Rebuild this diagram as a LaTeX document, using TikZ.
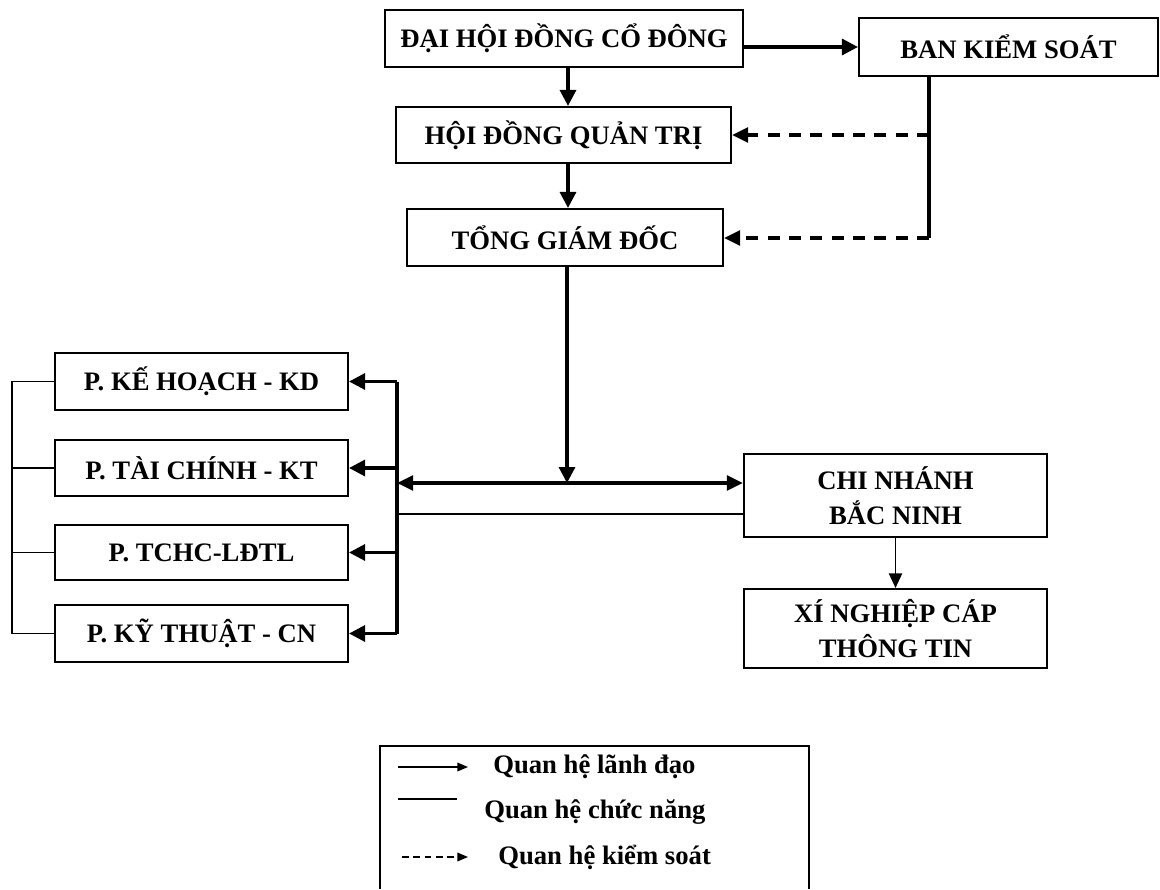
\documentclass[tikz,border=0pt]{standalone}
\usepackage{fontspec}
\setmainfont{Liberation Serif}
\usetikzlibrary{arrows.meta}
\begin{document}
\begin{tikzpicture}[x=0.75pt,y=-0.75pt,
  box/.style={draw,line width=1.6pt,inner sep=0pt,align=center,font=\fontsize{20}{26}\selectfont\bfseries},
  lead/.style={line width=2.4pt,-{Triangle[length=12pt,width=12pt]}},
  thick line/.style={line width=2.4pt},
  ctrl/.style={line width=2.4pt,dash pattern=on 9pt off 7pt,-{Triangle[length=12pt,width=11pt]}},
  func/.style={line width=1pt},
  legtext/.style={anchor=west,font=\fontsize{20}{22}\selectfont\bfseries,inner sep=0pt}]
\useasboundingbox (0,0) rectangle (1160,889);
\fill[white] (0,0) rectangle (1160,889);

% boxes
\node[box,minimum width=358*0.75pt,minimum height=57*0.75pt] (dh) at (564,38.5) {ĐẠI HỘI ĐỒNG CỔ ĐÔNG};
\node[box,minimum width=335*0.75pt,minimum height=56*0.75pt] (hd) at (563.5,135) {HỘI ĐỒNG QUẢN TRỊ};
\node[box,minimum width=316*0.75pt,minimum height=57*0.75pt] (tgd) at (565,237.5) {TỔNG GIÁM ĐỐC};
\node[box,minimum width=299*0.75pt,minimum height=58*0.75pt] (bks) at (1008.5,47) {BAN KIỂM SOÁT};
\node[box,minimum width=293*0.75pt,minimum height=57*0.75pt] (kh) at (201.5,381.5) {P. KẾ HOẠCH - KD};
\node[box,minimum width=293*0.75pt,minimum height=56*0.75pt] (tc) at (201.5,468) {P. TÀI CHÍNH - KT};
\node[box,minimum width=293*0.75pt,minimum height=55*0.75pt] (tchc) at (201.5,552.5) {P. TCHC-LĐTL};
\node[box,minimum width=293*0.75pt,minimum height=57*0.75pt] (kt) at (201.5,633.5) {P. KỸ THUẬT - CN};
\node[box,minimum width=303*0.75pt,minimum height=83*0.75pt] (cn) at (895.5,495.5) {CHI NHÁNH\\BẮC NINH};
\node[box,minimum width=303*0.75pt,minimum height=79*0.75pt] (xn) at (895.5,628.5) {XÍ NGHIỆP CÁP\\THÔNG TIN};

% helper coordinates
\coordinate (spine) at (568,0);
\coordinate (kv) at (929,238);
\coordinate (j) at (567,483);
\coordinate (bus) at (397,0);
\coordinate (lb) at (12,0);
\coordinate (f) at (397,514);

% leadership
\draw[lead] (dh.south -| spine) -- (hd.north -| spine);
\draw[lead] (hd.south -| spine) -- (tgd.north -| spine);
\draw[lead] (bks.west -| dh.east) -- (bks.west);
\draw[lead] (tgd.south -| j) -- (j);
\draw[thick line,{Triangle[length=12pt,width=11pt]}-{Triangle[length=12pt,width=11pt]}] (j -| bus) -- (j -| cn.west);
\draw[thick line] (kh.east -| bus) -- (kt.east -| bus);
\draw[lead] (kh.east -| bus) -- (kh.east);
\draw[lead] (tc.east -| bus) -- (tc.east);
\draw[lead] (tchc.east -| bus) -- (tchc.east);
\draw[lead] (kt.east -| bus) -- (kt.east);
\draw[line width=1.3pt,-{Triangle[length=11pt,width=10pt]}] (cn.south) -- (xn.north);

% control
\draw[thick line] (bks.south -| kv) -- (kv);
\draw[ctrl] (hd.east -| kv) -- (hd.east);
\draw[ctrl] (kv) -- (kv -| tgd.east);

% functional
\draw[func] (f) -- (f -| cn.west);
\draw[func] (kh.west) -- (kh.west -| lb) -- (kt.west -| lb) -- (kt.west);
\draw[func] (tc.west -| lb) -- (tc.west);
\draw[func] (tchc.west -| lb) -- (tchc.west);

% legend
\draw[line width=1.2pt] (380,889) -- (380,746) -- (809,746) -- (809,889);
\coordinate (l1a) at (398,767); \coordinate (l1b) at (468,767);
\coordinate (l2a) at (398,799); \coordinate (l2b) at (457,799);
\coordinate (l3a) at (402,857); \coordinate (l3b) at (468,857);
\draw[line width=1pt,-{Triangle[length=8pt,width=6.5pt]}] (l1a) -- (l1b);
\draw[line width=1pt] (l2a) -- (l2b);
\draw[line width=1pt,dash pattern=on 5pt off 3.5pt,-{Triangle[length=8pt,width=6.5pt]}] (l3a) -- (l3b);
\node[legtext] (t1) at (493,767) {Quan hệ lãnh đạo};
\node[legtext] (t2) at (484,812) {Quan hệ chức năng};
\node[legtext] (t3) at (498,857) {Quan hệ kiểm soát};
\end{tikzpicture}
\end{document}
